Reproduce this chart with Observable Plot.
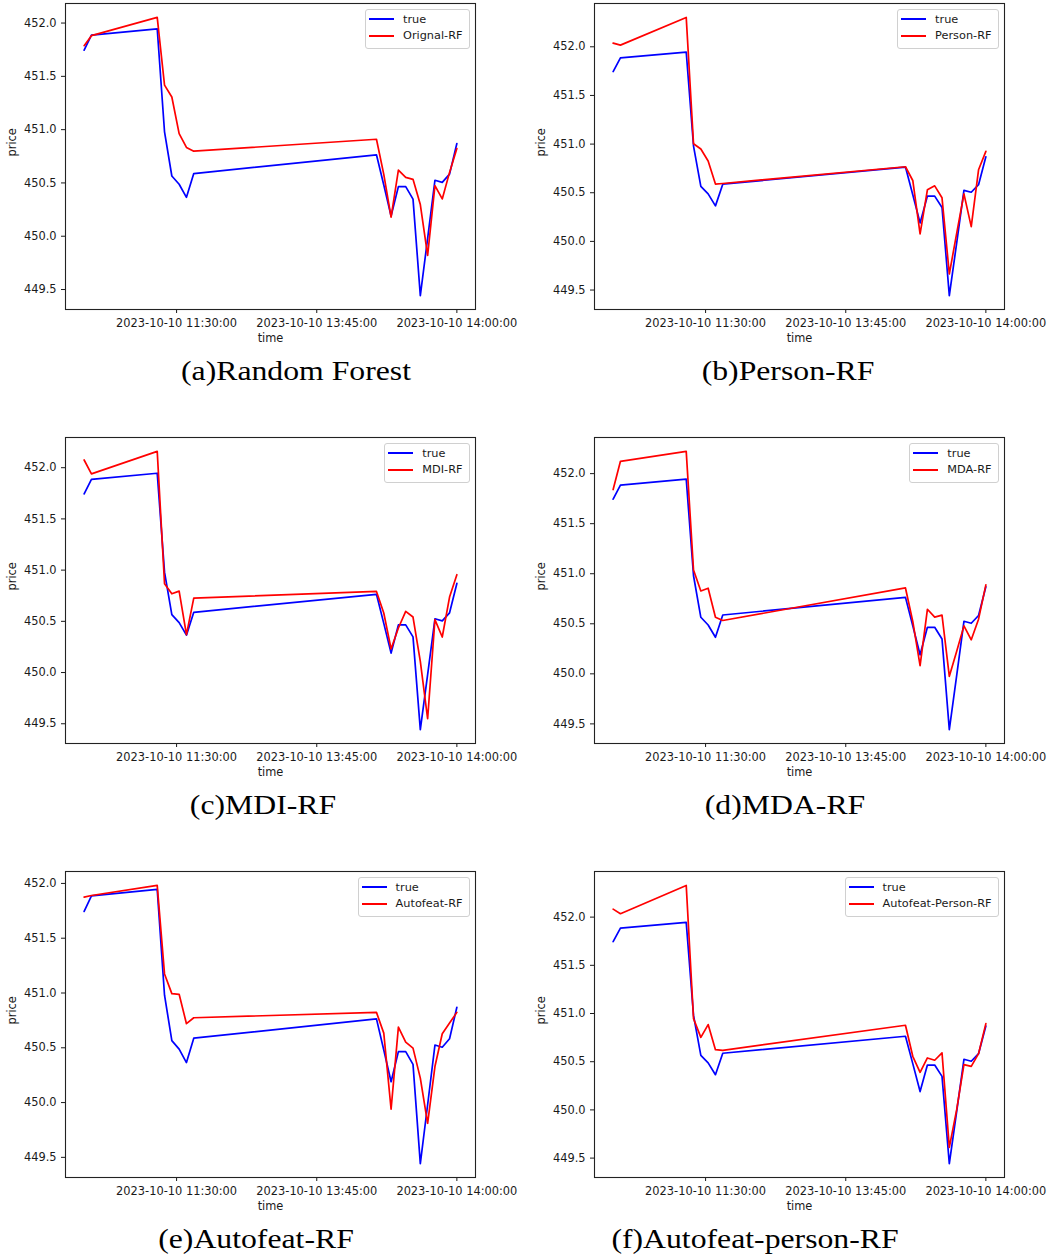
<!DOCTYPE html>
<html>
<head>
<meta charset="utf-8">
<script src="https://cdn.jsdelivr.net/npm/d3@7"></script>
<script src="https://cdn.jsdelivr.net/npm/@observablehq/plot@0.6"></script>
<style>
  body { margin: 0; background: #fff; }
  #fig { position: relative; width: 1051px; height: 1259px; overflow: hidden; }
  .panel { position: absolute; width: 480px; height: 345px; }
  .panel svg { display: block; }
  .legend {
    position: absolute; top: 9px; right: 10.5px;
    background: rgba(255,255,255,0.8);
    border: 1px solid #d0d0d0; border-radius: 3px;
    padding: 1px 6px 4px 3px;
    font-family: "DejaVu Sans", sans-serif; font-size: 11.3px; color: #1a1a1a;
  }
  .legend .row { display: flex; align-items: center; height: 16.6px; white-space: nowrap; }
  .legend .swatch { display: inline-block; width: 25px; height: 1.7px; margin-right: 9px; }
  .caption {
    position: absolute; font-family: "Liberation Serif", "Times New Roman", serif;
    font-size: 27px; line-height: 27px; color: #000; white-space: nowrap;
    transform: translateX(-50%) scaleX(1.175); transform-origin: center;
  }
</style>
</head>
<body>
<div id="fig"></div>
<script>
// ---- data ----
const steps = [0, 1, 10, 11, 12, 13, 14, 15, 40, 41, 42, 43, 44, 45, 46, 47, 48, 49, 50, 51];
const tickSteps = [12.65, 31.83, 51];
const tickLabels = ["2023-10-10 11:30:00", "2023-10-10 13:45:00", "2023-10-10 14:00:00"];
const yTicks = [449.5, 450.0, 450.5, 451.0, 451.5, 452.0];

const truePrice = [451.745, 451.886, 451.946, 450.98, 450.565, 450.488, 450.365, 450.588, 450.764, 450.48,
                   450.19, 450.465, 450.465, 450.348, 449.443, 449.98, 450.525, 450.505, 450.583, 450.87];
const origRF = [451.788, 451.882, 452.053, 451.418, 451.306, 450.963, 450.833, 450.798, 450.910, 450.58,
                450.179, 450.621, 450.552, 450.534, 450.297, 449.82, 450.475, 450.35, 450.599, 450.823];
const personRF = [452.038, 452.017, 452.302, 451.004, 450.949, 450.826, 450.589, 450.595, 450.767, 450.626,
                  450.077, 450.530, 450.571, 450.448, 449.665, 450.08, 450.489, 450.152, 450.736, 450.925];
const mdiRF = [452.075, 451.94, 452.159, 450.867, 450.769, 450.795, 450.37, 450.727, 450.792, 450.581,
               450.23, 450.435, 450.597, 450.542, 450.11, 449.549, 450.516, 450.347, 450.737, 450.955];
const mdaRF = [451.841, 452.123, 452.222, 451.037, 450.828, 450.855, 450.566, 450.533, 450.858, 450.523,
               450.081, 450.645, 450.566, 450.586, 449.975, 450.224, 450.479, 450.34, 450.546, 450.888];
const autofeatRF = [451.875, 451.89, 451.982, 451.174, 450.994, 450.988, 450.72, 450.774, 450.823, 450.634,
                    449.939, 450.689, 450.552, 450.497, 450.223, 449.811, 450.329, 450.628, 450.726, 450.823];
const autofeatPersonRF = [452.083, 452.035, 452.329, 450.947, 450.753, 450.885, 450.625, 450.618, 450.878, 450.556,
                          450.39, 450.539, 450.515, 450.591, 449.611, 450.0, 450.47, 450.452, 450.584, 450.895];

const modelNames = ["Orignal-RF", "Person-RF", "MDI-RF", "MDA-RF", "Autofeat-RF", "Autofeat-Person-RF"];
const predictions = [origRF, personRF, mdiRF, mdaRF, autofeatRF, autofeatPersonRF];
const captions = ["(a)Random Forest", "(b)Person-RF", "(c)MDI-RF", "(d)MDA-RF", "(e)Autofeat-RF", "(f)Autofeat-person-RF"];

// ---- layout ----
const colLeft = [0, 529];
const rowTop = [0, 434, 868];
const captionCenterX = [296, 788, 263, 785, 256, 755];
const trueColor = "#0000ff", predColor = "#ff0000";

const fig = document.getElementById("fig");
const xPad = (d3.max(steps) - d3.min(steps)) * 0.05;

predictions.forEach((pred, k) => {
  const col = k % 2, row = Math.floor(k / 2);
  const [lo, hi] = d3.extent(truePrice.concat(pred));
  const yPad = (hi - lo) * 0.05;

  const chart = Plot.plot({
    width: 480, height: 345,
    marginLeft: 65, marginRight: 5, marginTop: 3, marginBottom: 36,
    style: { fontFamily: "DejaVu Sans, sans-serif", fontSize: "11.4px", color: "#1a1a1a", background: "transparent", overflow: "visible" },
    x: {
      domain: [d3.min(steps) - xPad, d3.max(steps) + xPad],
      ticks: tickSteps, tickFormat: d => tickLabels[tickSteps.indexOf(d)],
      tickSize: 4, tickPadding: 5, label: null
    },
    y: {
      domain: [lo - yPad, hi + yPad],
      ticks: yTicks, tickFormat: d3.format(".1f"),
      tickSize: 4, tickPadding: 5, label: null
    },
    marks: [
      Plot.lineY(truePrice, { x: steps, stroke: trueColor, strokeWidth: 1.7 }),
      Plot.lineY(pred, { x: steps, stroke: predColor, strokeWidth: 1.7 }),
      Plot.frame({ stroke: "#222", strokeWidth: 1.1 }),
      Plot.text(["time"], { frameAnchor: "bottom", dy: 32, text: d => d, fontSize: 11.4, fill: "#1a1a1a" }),
      Plot.text(["price"], { frameAnchor: "left", dx: -53, rotate: -90, text: d => d, fontSize: 11.4, fill: "#1a1a1a" })
    ]
  });

  const panel = document.createElement("div");
  panel.className = "panel";
  panel.style.left = colLeft[col] + "px";
  panel.style.top = rowTop[row] + "px";
  panel.appendChild(chart);

  const legend = document.createElement("div");
  legend.className = "legend";
  [["true", trueColor], [modelNames[k], predColor]].forEach(([label, color]) => {
    const r = document.createElement("div");
    r.className = "row";
    const sw = document.createElement("span");
    sw.className = "swatch";
    sw.style.background = color;
    const t = document.createElement("span");
    t.textContent = label;
    r.appendChild(sw); r.appendChild(t);
    legend.appendChild(r);
  });
  panel.appendChild(legend);
  fig.appendChild(panel);

  const cap = document.createElement("div");
  cap.className = "caption";
  cap.textContent = captions[k];
  cap.style.left = captionCenterX[k] + "px";
  cap.style.top = (rowTop[row] + 358) + "px";
  fig.appendChild(cap);
});
</script>
</body>
</html>
